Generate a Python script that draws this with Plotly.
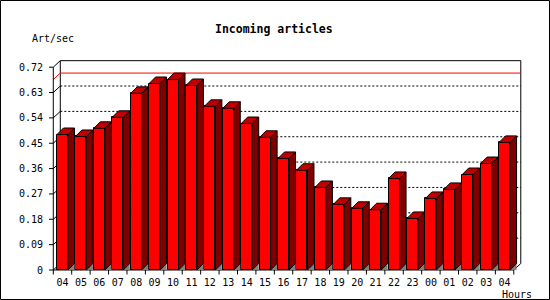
import plotly.graph_objects as go

# ---- data ----
hours = ["04", "05", "06", "07", "08", "09", "10", "11", "12", "13", "14", "15",
         "16", "17", "18", "19", "20", "21", "22", "23", "00", "01", "02", "03", "04"]
rate = [0.481, 0.474, 0.503, 0.542, 0.627, 0.662, 0.676, 0.655, 0.581, 0.574,
        0.520, 0.471, 0.396, 0.354, 0.293, 0.233, 0.219, 0.214, 0.325, 0.183,
        0.254, 0.286, 0.339, 0.378, 0.453]
y_tick_vals = [0, 0.09, 0.18, 0.27, 0.36, 0.45, 0.54, 0.63, 0.72]
y_tick_text = ["0", "0.09", "0.18", "0.27", "0.36", "0.45", "0.54", "0.63", "0.72"]
title_text = "Incoming articles"
y_title = "Art/sec"
x_title = "Hours"

# ---- geometry (pixels) ----
W, H = 550, 300
S_X, S_Y = 18.42, 281.7          # px per data unit
X0_PX, Y0_PX = 62.5, 270.0       # pixel of x=0 and y=0
L, R, T, B = 48, 522, 58, 275    # plot-area pixel bounds
xr = [(L - X0_PX) / S_X, (R - X0_PX) / S_X]
yr = [(Y0_PX - B) / S_Y, (Y0_PX - T) / S_Y]

bdx, bdy = 6.5 / S_X, 6.5 / S_Y   # bar depth
fdx, fdy = 7.0 / S_X, 6.5 / S_Y   # frame depth
bw = 11.0 / S_X                   # bar front width
n = len(rate)
idx = list(range(n))
xl_edge, xr_edge = -0.5, n - 0.5
ymax = y_tick_vals[-1]
vmax = max(rate)

def px(p):
    return (p - L) / (R - L)

def py(p):
    return (B - p) / (B - T)

FONT = "DejaVu Sans Mono"
DARK = "#800000"
TOP = "#c00000"

fig = go.Figure()

# front faces
fig.add_trace(go.Bar(x=idx, y=rate, width=bw,
                     marker=dict(color="#ff0000", line=dict(color="black", width=1)),
                     hoverinfo="skip", showlegend=False))

# shadows, sides, tops (computed from the data)
shx, shy, sx, sy, tx, ty = [], [], [], [], [], []
for i, v in zip(idx, rate):
    a = i - bw / 2
    b = i + bw / 2
    shx += [b, b + bdx, b + bdx, b, None]
    shy += [0, bdy, 0, 0, None]
    sx += [b, b + bdx, b + bdx, b, b, None]
    sy += [0, bdy, v + bdy, v, 0, None]
    tx += [a, b, b + bdx, a + bdx, a, None]
    ty += [v, v, v + bdy, v + bdy, v, None]

fig.add_trace(go.Scatter(x=shx, y=shy, mode="lines", fill="toself", fillcolor="#808080",
                         line=dict(width=0, color="#808080"), hoverinfo="skip", showlegend=False))
fig.add_trace(go.Scatter(x=sx, y=sy, mode="lines", fill="toself", fillcolor=DARK,
                         line=dict(width=1, color="black"), hoverinfo="skip", showlegend=False))
fig.add_trace(go.Scatter(x=tx, y=ty, mode="lines", fill="toself", fillcolor=TOP,
                         line=dict(width=1, color="black"), hoverinfo="skip", showlegend=False))

shapes = []
def seg(x0, y0, x1, y1, color="black", dash=None, layer="below"):
    d = dict(type="line", xref="x", yref="y", x0=x0, y0=y0, x1=x1, y1=y1,
             line=dict(color=color, width=1), layer=layer)
    if dash:
        d["line"]["dash"] = dash
    shapes.append(d)

# dotted grid on back wall
for v in y_tick_vals[1:-1]:
    seg(xl_edge + fdx, v + fdy, xr_edge + fdx, v + fdy, dash="2px,2px")
# back wall frame
seg(xl_edge + fdx, fdy, xl_edge + fdx, ymax + fdy)
seg(xl_edge + fdx, ymax + fdy, xr_edge + fdx, ymax + fdy)
seg(xr_edge + fdx, fdy, xr_edge + fdx, ymax + fdy)
# left wall diagonals + y ticks
for v in y_tick_vals:
    seg(xl_edge, v, xl_edge + fdx, v + fdy)
    seg(xl_edge - 4.3 / S_X, v, xl_edge, v)
# red max line
seg(xl_edge, vmax, xl_edge + fdx, vmax + fdy, color="#ff0000")
seg(xl_edge + fdx, vmax + fdy, xr_edge + fdx, vmax + fdy, color="#ff0000")
# front axes
seg(xl_edge, 0, xl_edge, ymax)
seg(xl_edge, 0, xr_edge, 0)
seg(xr_edge, 0, xr_edge + fdx, fdy)
# x ticks at category boundaries
for k in range(n + 1):
    seg(k - 0.5, 0, k - 0.5, -4.5 / S_Y)

# outer border
shapes.append(dict(type="rect", xref="paper", yref="paper",
                   x0=px(0.5), x1=px(W - 0.5), y0=py(H - 0.5), y1=py(0.5),
                   line=dict(color="black", width=1), layer="above"))

annotations = [
    dict(text="<b>" + title_text + "</b>", xref="paper", yref="paper",
         x=px(273.5), y=py(28.5), xanchor="center", yanchor="middle", showarrow=False,
         font=dict(family=FONT, size=11.5, color="black")),
    dict(text=y_title, xref="paper", yref="paper",
         x=px(29.8), y=py(38.8), xanchor="left", yanchor="middle", showarrow=False,
         font=dict(family=FONT, size=10, color="black")),
    dict(text=x_title, xref="paper", yref="paper",
         x=px(534), y=py(294.5), xanchor="right", yanchor="middle", showarrow=False,
         font=dict(family=FONT, size=10, color="black")),
]

fig.update_layout(
    width=W, height=H,
    margin=dict(l=L, r=W - R, t=T, b=H - B, pad=0),
    paper_bgcolor="white", plot_bgcolor="white",
    showlegend=False, bargap=0,
    shapes=shapes, annotations=annotations,
    xaxis=dict(range=xr, showgrid=False, zeroline=False, showline=False,
               tickmode="array", tickvals=idx, ticktext=hours, ticks="",
               tickfont=dict(family=FONT, size=10, color="black"), fixedrange=True),
    yaxis=dict(range=yr, showgrid=False, zeroline=False, showline=False,
               tickmode="array", tickvals=y_tick_vals, ticktext=y_tick_text, ticks="",
               ticklabelstandoff=4,
               tickfont=dict(family=FONT, size=10, color="black"), fixedrange=True),
)

fig.write_html("out.html", config=dict(displayModeBar=False))
